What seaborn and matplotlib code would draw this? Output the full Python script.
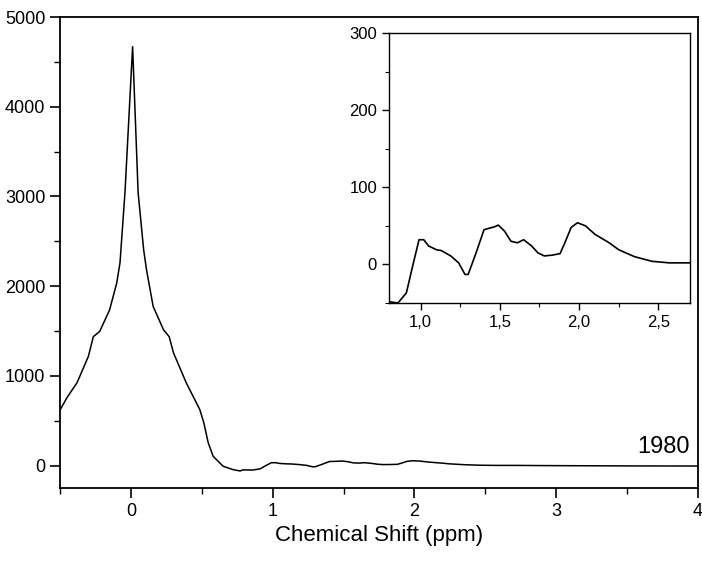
import numpy as np
import pandas as pd
import matplotlib
matplotlib.use("Agg")
import matplotlib.pyplot as plt
from matplotlib.ticker import MultipleLocator
import seaborn as sns

# broad part of the spectrum (ppm, intensity)
shift_peak = [-0.50, -0.45, -0.38, -0.30, -0.265, -0.22, -0.15, -0.10, -0.077,
              -0.042, 0.012, 0.051, 0.09, 0.11, 0.157, 0.23, 0.27, 0.30, 0.39,
              0.486, 0.514, 0.545, 0.58, 0.65, 0.72, 0.77]
intens_peak = [620, 760, 924, 1217, 1437, 1496, 1737, 2036, 2260,
               3040, 4670, 3040, 2405, 2183, 1774, 1514, 1437, 1258, 924,
               624, 479, 256, 104, -7, -45, -60]

# zoomed region shown in the inset
shift_zoom = [0.79, 0.857, 0.91, 0.95, 0.99, 1.02, 1.05, 1.10, 1.13, 1.19, 1.24,
              1.28, 1.30, 1.35, 1.40, 1.47, 1.49, 1.53, 1.57, 1.61, 1.65, 1.70,
              1.74, 1.78, 1.83, 1.88, 1.91, 1.95, 1.99, 2.04, 2.10, 2.19, 2.25,
              2.35, 2.46, 2.57, 2.71]
intens_zoom = [-48, -50, -37, -2, 32, 32, 24, 19, 18, 11, 2,
               -13, -13, 15, 45, 49, 51, 43, 30, 28, 32, 24,
               15, 11, 12, 14, 28, 48, 54, 50, 39, 28, 19,
               10, 4, 2, 2]

# flat tail
shift_tail = [2.9, 3.2, 3.6, 4.0]
intens_tail = [0, -2, -4, -5]

main_xticks = [0, 1, 2, 3, 4]
main_yticks = [0, 1000, 2000, 3000, 4000, 5000]
main_yticklabels = ["0", "1000", "2000", "3000", "4000", "5000"]
inset_xticks = [1.0, 1.5, 2.0, 2.5]
inset_xticklabels = ["1,0", "1,5", "2,0", "2,5"]
inset_yticks = [0, 100, 200, 300]

df = pd.DataFrame({
    "shift": shift_peak + shift_zoom + shift_tail,
    "intensity": intens_peak + intens_zoom + intens_tail,
})
dz = pd.DataFrame({"shift": shift_zoom, "intensity": intens_zoom})

sns.set_style("ticks")
plt.rcParams["font.family"] = ["Liberation Sans", "DejaVu Sans"]
plt.rcParams["text.color"] = "black"
plt.rcParams["xtick.color"] = "black"
plt.rcParams["ytick.color"] = "black"
plt.rcParams["axes.labelcolor"] = "black"
plt.rcParams["axes.edgecolor"] = "black"

fig = plt.figure(figsize=(7.02, 5.66), dpi=100)
ax = fig.add_axes([0.0855, 0.1378, 0.9088, 0.832])
sns.lineplot(data=df, x="shift", y="intensity", ax=ax, color="black", linewidth=1.1)
ax.set_xlim(-0.5, 4)
ax.set_ylim(-250, 5000)
ax.set_xticks(main_xticks)
ax.set_yticks(main_yticks)
ax.set_yticklabels(main_yticklabels)
ax.xaxis.set_minor_locator(MultipleLocator(0.5))
ax.yaxis.set_minor_locator(MultipleLocator(500))
ax.tick_params(which="major", length=7, width=1.2, labelsize=13, direction="out")
ax.tick_params(which="minor", length=4, width=1.0, direction="out")
ax.set_xlabel("Chemical Shift (ppm)", fontsize=16)
ax.set_ylabel("")
for s in ax.spines.values():
    s.set_linewidth(1.3)
ax.text(0.987, 0.087, "1980", transform=ax.transAxes, ha="right", va="center", fontsize=17)

axin = fig.add_axes([0.554, 0.4647, 0.429, 0.477])
sns.lineplot(data=dz, x="shift", y="intensity", ax=axin, color="black", linewidth=1.2)
axin.set_xlim(0.8, 2.7)
axin.set_ylim(-50, 300)
axin.set_xticks(inset_xticks)
axin.set_xticklabels(inset_xticklabels)
axin.set_yticks(inset_yticks)
axin.xaxis.set_minor_locator(MultipleLocator(0.25))
axin.yaxis.set_minor_locator(MultipleLocator(50))
axin.tick_params(which="major", length=5, width=1.0, labelsize=12, direction="out")
axin.tick_params(which="minor", length=3, width=0.8, direction="out")
axin.set_xlabel("")
axin.set_ylabel("")
for s in axin.spines.values():
    s.set_linewidth(1.0)

fig.savefig("out.png", dpi=100)
